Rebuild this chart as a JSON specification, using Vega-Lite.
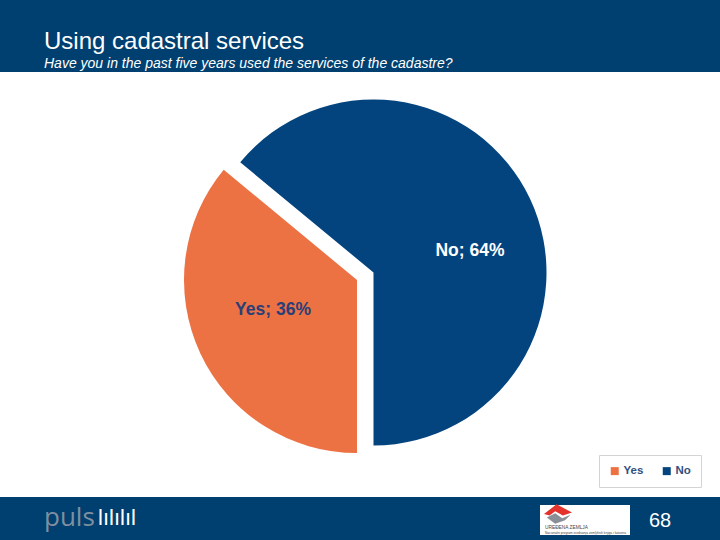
{
  "$schema": "https://vega.github.io/schema/vega-lite/v6.json",
  "description": "Using cadastral services, exploded pie",
  "width": 720,
  "height": 540,
  "autosize": {"type": "fit", "contains": "padding"},
  "padding": 0,
  "background": "#ffffff",
  "config": {"view": {"stroke": null}, "text": {"font": "Liberation Sans", "baseline": "alphabetic"}},
  "datasets": {
    "answers": [
      {"answer": "Yes", "share": 36, "label": "Yes; 36%"},
      {"answer": "No", "share": 64, "label": "No; 64%"}
    ],
    "one": [{"k": 1}]
  },
  "layer": [
    {
      "data": {"name": "one"},
      "mark": {"type": "rect", "x": 0, "x2": 720, "y": 0, "y2": 72, "fill": "#004070"}
    },
    {
      "data": {"name": "one"},
      "mark": {"type": "rect", "x": 0, "x2": 720, "y": 497, "y2": 540, "fill": "#004070"}
    },
    {
      "data": {"name": "one"},
      "mark": {"type": "rect", "x": 540, "x2": 630, "y": 505, "y2": 535, "fill": "#ffffff"}
    },
    {
      "data": {"name": "one"},
      "mark": {"type": "point", "x": 558, "y": 514, "size": 784, "filled": true, "opacity": 1, "color": "#8a8f96", "shape": "M-0.8 0.25 L-0.2 -0.05 L0.3 0.3 L0.9 0.05 L0.5 0.45 L-0.2 0.7 Z"}
    },
    {
      "data": {"name": "one"},
      "mark": {"type": "point", "x": 558, "y": 514, "size": 784, "filled": true, "opacity": 1, "color": "#e2342d", "shape": "M-1 0 L-0.1 -0.7 L1 -0.1 L0.35 0.1 L-0.2 -0.2 L-0.6 0.1 Z"}
    },
    {
      "data": {"name": "one"},
      "mark": {"type": "text", "x": 545, "y": 529, "align": "left", "fontSize": 4.8, "color": "#444444"},
      "encoding": {"text": {"value": "UREĐENA ZEMLJA"}}
    },
    {
      "data": {"name": "one"},
      "mark": {"type": "text", "x": 545, "y": 533.5, "align": "left", "fontSize": 3.2, "color": "#444444"},
      "encoding": {"text": {"value": "Nacionalni program sređivanja zemljišnih knjiga i katastra"}}
    },
    {
      "data": {"name": "one"},
      "mark": {"type": "text", "x": 44, "y": 49, "align": "left", "fontSize": 24, "color": "#ffffff"},
      "encoding": {"text": {"value": "Using cadastral services"}}
    },
    {
      "data": {"name": "one"},
      "mark": {"type": "text", "x": 44, "y": 68, "align": "left", "fontSize": 14, "fontStyle": "italic", "color": "#ffffff"},
      "encoding": {"text": {"value": "Have you in the past five years used the services of the cadastre?"}}
    },
    {
      "data": {"name": "one"},
      "mark": {"type": "text", "x": 44, "y": 526, "align": "left", "fontSize": 26, "font": "Open Sans", "color": "#7f8f9f"},
      "encoding": {"text": {"value": "puls"}}
    },
    {
      "data": {"name": "one"},
      "mark": {"type": "text", "x": 98, "y": 525, "align": "left", "fontSize": 22, "color": "#ffffff"},
      "encoding": {"text": {"value": "lılılıl"}}
    },
    {
      "data": {"name": "one"},
      "mark": {"type": "text", "x": 649, "y": 527, "align": "left", "fontSize": 20, "color": "#ffffff"},
      "encoding": {"text": {"value": "68"}}
    },
    {
      "data": {"name": "answers"},
      "transform": [
        {"stack": "share", "groupby": [], "sort": [{"field": "answer", "order": "descending"}], "as": ["start", "end"]}
      ],
      "layer": [
        {
          "transform": [{"filter": "datum.answer === 'Yes'"}],
          "mark": {"type": "arc", "radius": 173},
          "encoding": {
            "x": {"value": 357},
            "y": {"value": 280}
          }
        },
        {
          "transform": [{"filter": "datum.answer === 'No'"}],
          "mark": {"type": "arc", "radius": 173},
          "encoding": {
            "x": {"value": 373.5},
            "y": {"value": 272.5}
          }
        },
        {
          "transform": [{"filter": "datum.answer === 'Yes'"}],
          "mark": {"type": "text", "x": 273, "y": 310, "baseline": "middle", "fontSize": 17.5, "fontWeight": "bold"},
          "encoding": {"text": {"field": "label"}, "color": {"value": "#2a3f78"}, "theta": null, "theta2": null}
        },
        {
          "transform": [{"filter": "datum.answer === 'No'"}],
          "mark": {"type": "text", "x": 470, "y": 251, "baseline": "middle", "fontSize": 17.5, "fontWeight": "bold"},
          "encoding": {"text": {"field": "label"}, "color": {"value": "#ffffff"}, "theta": null, "theta2": null}
        }
      ],
      "encoding": {
        "theta": {"field": "start", "type": "quantitative", "scale": {"domain": [0, 100], "range": [3.14159265, 9.42477796]}},
        "theta2": {"field": "end"},
        "color": {
          "field": "answer",
          "type": "nominal",
          "scale": {"domain": ["Yes", "No"], "range": ["#ec7243", "#03447f"]},
          "legend": {
            "title": null,
            "orient": "none",
            "legendX": 599,
            "legendY": 455,
            "direction": "horizontal",
            "columns": 2,
            "symbolType": "square",
            "symbolSize": 64,
            "symbolStrokeWidth": 0,
            "columnPadding": 17,
            "padding": 10,
            "fillColor": "#ffffff",
            "strokeColor": "#d4d4d4",
            "labelFont": "Liberation Sans",
            "labelFontSize": 11.5,
            "labelFontWeight": "bold",
            "labelColor": "#33507f",
            "labelOffset": 3
          }
        }
      }
    }
  ]
}
